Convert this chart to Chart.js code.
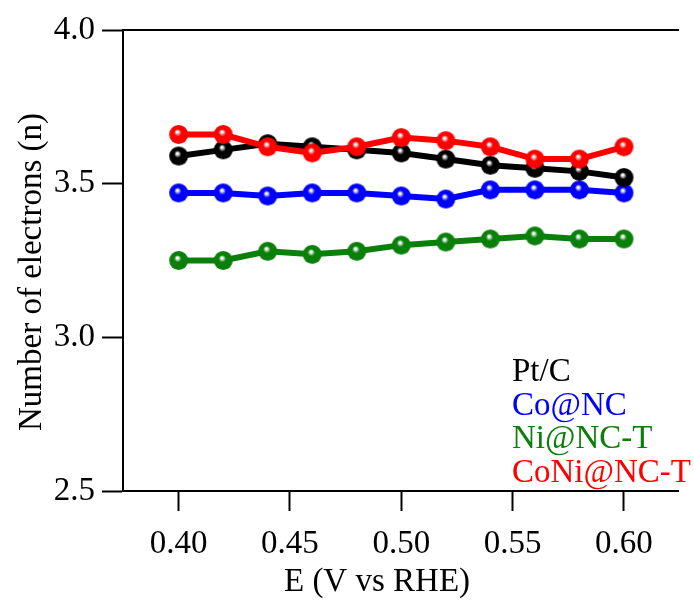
<!DOCTYPE html>
<html>
<head>
<meta charset="utf-8">
<script src="https://cdn.jsdelivr.net/npm/chart.js@4.4.1/dist/chart.umd.min.js"></script>
<style>
html,body{margin:0;padding:0;background:#fff;overflow:hidden;}
#wrap{width:694px;height:603px;}
</style>
</head>
<body>
<div id="wrap"><canvas id="c" width="694" height="603"></canvas></div>
<script>
// ---- data ----
const potentials = [0.40, 0.42, 0.44, 0.46, 0.48, 0.50, 0.52, 0.54, 0.56, 0.58, 0.60];
const seriesNames = ["Pt/C", "Co@NC", "Ni@NC-T", "CoNi@NC-T"];
const ptC      = [3.59, 3.61, 3.63, 3.62, 3.61, 3.60, 3.58, 3.56, 3.55, 3.54, 3.52];
const coNC     = [3.47, 3.47, 3.46, 3.47, 3.47, 3.46, 3.45, 3.48, 3.48, 3.48, 3.47];
const niNCT    = [3.25, 3.25, 3.28, 3.27, 3.28, 3.30, 3.31, 3.32, 3.33, 3.32, 3.32];
const coNiNCT  = [3.66, 3.66, 3.62, 3.60, 3.62, 3.65, 3.64, 3.62, 3.58, 3.58, 3.62];
const xTickValues = [0.40, 0.45, 0.50, 0.55, 0.60];
const yTickValues = [2.5, 3.0, 3.5, 4.0];
const xTitle = "E (V vs RHE)";
const yTitle = "Number of electrons (n)";

const FONT = "'Liberation Serif', 'Times New Roman', serif";
const colors = ["#000000", "#0000ff", "#0a800a", "#ff0000"];

function ball(color, r) {
  const c = document.createElement('canvas');
  const s = 2 * r + 2;
  c.width = s; c.height = s;
  const g = c.getContext('2d');
  const cx = s / 2, cy = s / 2;
  const grad = g.createRadialGradient(cx - r * 0.15, cy - r * 0.3, 0, cx, cy, r);
  grad.addColorStop(0, '#ffffff');
  grad.addColorStop(0.1, '#ffffff');
  grad.addColorStop(0.38, color);
  grad.addColorStop(1, color);
  g.fillStyle = grad;
  g.beginPath(); g.arc(cx, cy, r, 0, Math.PI * 2); g.fill();
  return c;
}

const seriesValues = [ptC, coNC, niNCT, coNiNCT];
const drawOrder = [1, 2, 3, 0];
const datasets = seriesNames.map((name, i) => ({
  label: name,
  data: potentials.map((x, j) => ({x: x, y: seriesValues[i][j]})),
  borderColor: colors[i],
  backgroundColor: colors[i],
  borderWidth: 6,
  pointStyle: ball(colors[i], 9.5),
  pointRadius: 9.5,
  order: drawOrder[i],
  tension: 0
}));

const textDecor = {
  id: 'textDecor',
  afterDatasetsDraw(chart) {
    const ctx = chart.ctx;
    const a = chart.chartArea;
    ctx.save();
    ctx.font = "33px " + FONT;
    ctx.textAlign = 'left';
    ctx.textBaseline = 'alphabetic';
    chart.data.datasets.forEach((ds, i) => {
      ctx.fillStyle = ds.borderColor;
      ctx.fillText(ds.label, a.left + 389, a.top + 351 + i * 33.5);
    });
    ctx.fillStyle = '#000';
    ctx.textAlign = 'center';
    ctx.textBaseline = 'middle';
    ctx.fillText(xTitle, 377, 582);
    ctx.translate(32, 272);
    ctx.rotate(-Math.PI / 2);
    ctx.fillText(yTitle, 0, 0);
    ctx.restore();
  }
};

new Chart(document.getElementById('c'), {
  type: 'line',
  data: { datasets: datasets },
  plugins: [textDecor],
  options: {
    responsive: false,
    animation: false,
    layout: { padding: 0 },
    plugins: { legend: { display: false }, tooltip: { enabled: false } },
    scales: {
      x: {
        type: 'linear',
        position: 'bottom',
        min: 0.375,
        max: 0.6245,
        afterBuildTicks(scale) { scale.ticks = xTickValues.map(v => ({value: v})); },
        afterFit(scale) { scale.height = 112; },
        ticks: {
          callback: v => Number(v).toFixed(2),
          color: '#000',
          font: { family: FONT, size: 33 },
          padding: 14,
          maxRotation: 0
        },
        grid: { drawOnChartArea: false, drawTicks: true, tickLength: 20, tickWidth: 2, tickColor: '#000' },
        border: { display: true, color: '#000', width: 2 }
      },
      x2: {
        type: 'linear',
        position: 'top',
        min: 0.375,
        max: 0.6245,
        afterFit(scale) { scale.height = 30; },
        ticks: { display: false },
        grid: { display: false },
        border: { display: true, color: '#000', width: 2 }
      },
      y: {
        min: 2.5,
        max: 4.0,
        afterBuildTicks(scale) { scale.ticks = yTickValues.map(v => ({value: v})); },
        afterFit(scale) { scale.width = 123; },
        ticks: {
          callback: v => Number(v).toFixed(1),
          color: '#000',
          font: { family: FONT, size: 33 },
          padding: 7
        },
        grid: { drawOnChartArea: false, drawTicks: true, tickLength: 21, tickWidth: 2, tickColor: '#000' },
        border: { display: true, color: '#000', width: 2 }
      }
    }
  }
});
</script>
</body>
</html>
